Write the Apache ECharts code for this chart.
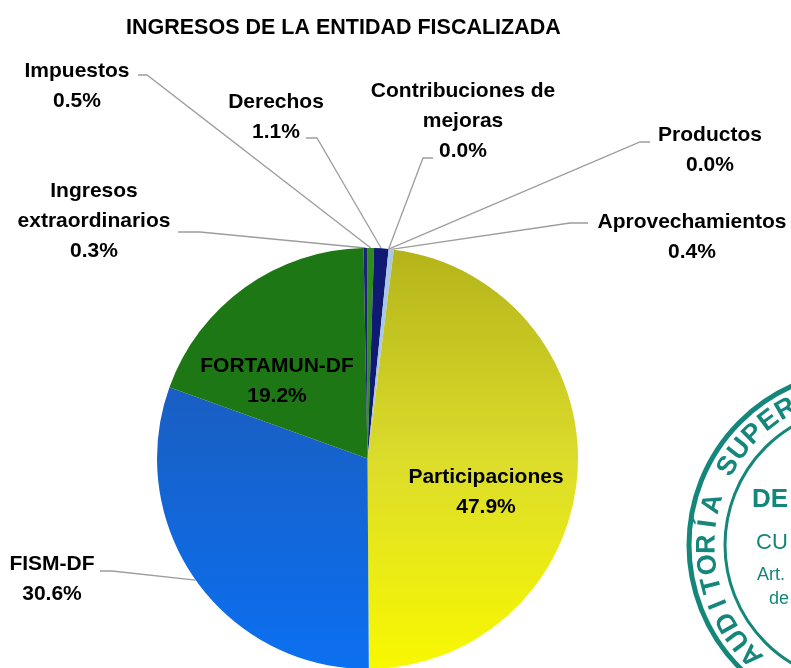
<!DOCTYPE html>
<html>
<head>
<meta charset="utf-8">
<script src="https://cdn.jsdelivr.net/npm/echarts@6/dist/echarts.min.js"></script>
<style>
html, body { margin: 0; padding: 0; background: #fff; }
#divPie { width: 791px; height: 668px; }
</style>
</head>
<body>
<div id="divPie"></div>
<script>
var categories = ['Impuestos', 'Derechos', 'Contribuciones de mejoras', 'Productos', 'Aprovechamientos',
    'Participaciones', 'FISM-DF', 'FORTAMUN-DF', 'Ingresos extraordinarios'];
var percents = [0.5, 1.1, 0.0, 0.0, 0.4, 47.9, 30.6, 19.2, 0.3];
var titleText = 'INGRESOS DE LA ENTIDAD FISCALIZADA';

var FONT = 'Liberation Sans, Arial, sans-serif';

// where each label block sits (center), and the two points of its leader line near the text
var labelAt = {
    'Impuestos': [77, 86],
    'Derechos': [276, 117],
    'Contribuciones de mejoras': [463, 121],
    'Productos': [710, 150],
    'Aprovechamientos': [692, 237],
    'Participaciones': [486, 492],
    'FISM-DF': [52, 579],
    'FORTAMUN-DF': [277, 381],
    'Ingresos extraordinarios': [94, 221]
};
var lineEnd = {
    'Impuestos': [[147, 75], [138, 75]],
    'Derechos': [[317, 138], [306, 138]],
    'Contribuciones de mejoras': [[423, 158], [433, 158]],
    'Productos': [[640, 142], [650, 142]],
    'Aprovechamientos': [[570, 223], [588, 223]],
    'FISM-DF': [[112, 571], [100, 571]],
    'Ingresos extraordinarios': [[200, 232], [178, 232]]
};
var wrapped = {
    'Contribuciones de mejoras': 'Contribuciones de\nmejoras',
    'Ingresos extraordinarios': 'Ingresos\nextraordinarios'
};

function grad(c0, c1, c2) {
    return new echarts.graphic.LinearGradient(0, 0, 0, 1, [
        { offset: 0, color: c0 }, { offset: 0.5, color: c1 }, { offset: 1, color: c2 }
    ]);
}

var sliceColors = {
    'Impuestos': '#2f8a1f',
    'Derechos': '#101a72',
    'Contribuciones de mejoras': '#7f7f7f',
    'Productos': '#c0504d',
    'Aprovechamientos': '#a9c8e6',
    'Participaciones': grad('#b4b41a', '#dcdc2c', '#f8f800'),
    'FISM-DF': grad('#1a5ec2', '#1267da', '#0b70f0'),
    'FORTAMUN-DF': '#1d7715',
    'Ingresos extraordinarios': '#1b2375'
};

var pieData = categories.map(function (name, i) {
    var inside = name === 'Participaciones' || name === 'FORTAMUN-DF';
    return {
        name: name,
        value: percents[i],
        itemStyle: { color: sliceColors[name] },
        label: { position: inside ? 'inside' : 'outside' },
        labelLine: { show: !inside }
    };
});

// stamp (scanned seal at the right edge)
var stampColor = '#14877a';
var stampCx = 863, stampCy = 545;
var stampGraphics = [
    { type: 'circle', silent: true, shape: { cx: stampCx, cy: stampCy, r: 174 },
      style: { fill: null, stroke: stampColor, lineWidth: 5 } },
    { type: 'circle', silent: true, shape: { cx: stampCx, cy: stampCy, r: 138 },
      style: { fill: null, stroke: stampColor, lineWidth: 3 } }
];
var stampWord = 'AUDITORÍA SUPERIOR';
for (var k = 0; k < stampWord.length; k++) {
    var th = (135.3 + k * 7.5) * Math.PI / 180;
    stampGraphics.push({
        type: 'text', silent: true,
        x: stampCx + 156 * Math.cos(th),
        y: stampCy + 156 * Math.sin(th),
        rotation: -(th + Math.PI / 2),
        style: { text: stampWord[k], fill: stampColor, font: 'bold 27px ' + FONT,
                 align: 'center', verticalAlign: 'middle' }
    });
}
stampGraphics.push(
    { type: 'text', silent: true, x: 752, y: 500, style: { text: 'DE', fill: stampColor, font: 'bold 26px ' + FONT, verticalAlign: 'middle' } },
    { type: 'text', silent: true, x: 756, y: 543, style: { text: 'CU', fill: stampColor, font: '22px ' + FONT, verticalAlign: 'middle' } },
    { type: 'text', silent: true, x: 757, y: 575, style: { text: 'Art.', fill: stampColor, font: '18px ' + FONT, verticalAlign: 'middle' } },
    { type: 'text', silent: true, x: 769, y: 599, style: { text: 'de', fill: stampColor, font: '18px ' + FONT, verticalAlign: 'middle' } }
);

var pie = echarts.init(document.getElementById('divPie'));
var pieOption = {
    animation: false,
    backgroundColor: '#ffffff',
    title: {
        text: titleText,
        left: 121,
        top: 12,
        textStyle: { fontFamily: FONT, fontSize: 21.5, fontWeight: 'bold', color: '#000' }
    },
    graphic: stampGraphics,
    series: [
        {
            type: 'pie',
            center: [367.5, 458.5],
            radius: 210.5,
            startAngle: 90,
            clockwise: true,
            avoidLabelOverlap: false,
            emphasis: { disabled: true },
            label: {
                show: true,
                fontFamily: FONT,
                fontSize: 21,
                fontWeight: 'bold',
                color: '#000',
                lineHeight: 30,
                align: 'center',
                formatter: function (p) {
                    return (wrapped[p.name] || p.name) + '\n' + p.value.toFixed(1) + '%';
                }
            },
            labelLine: {
                show: true,
                lineStyle: { color: '#9d9d9d', width: 1.3 }
            },
            labelLayout: function (params) {
                var name = categories[params.dataIndex];
                var at = labelAt[name];
                var out = { x: at[0], y: at[1], align: 'center', verticalAlign: 'middle' };
                if (lineEnd[name] && params.labelLinePoints) {
                    out.labelLinePoints = [params.labelLinePoints[0], lineEnd[name][0], lineEnd[name][1]];
                }
                return out;
            },
            data: pieData
        }
    ]
};
pie.setOption(pieOption);
</script>
</body>
</html>
